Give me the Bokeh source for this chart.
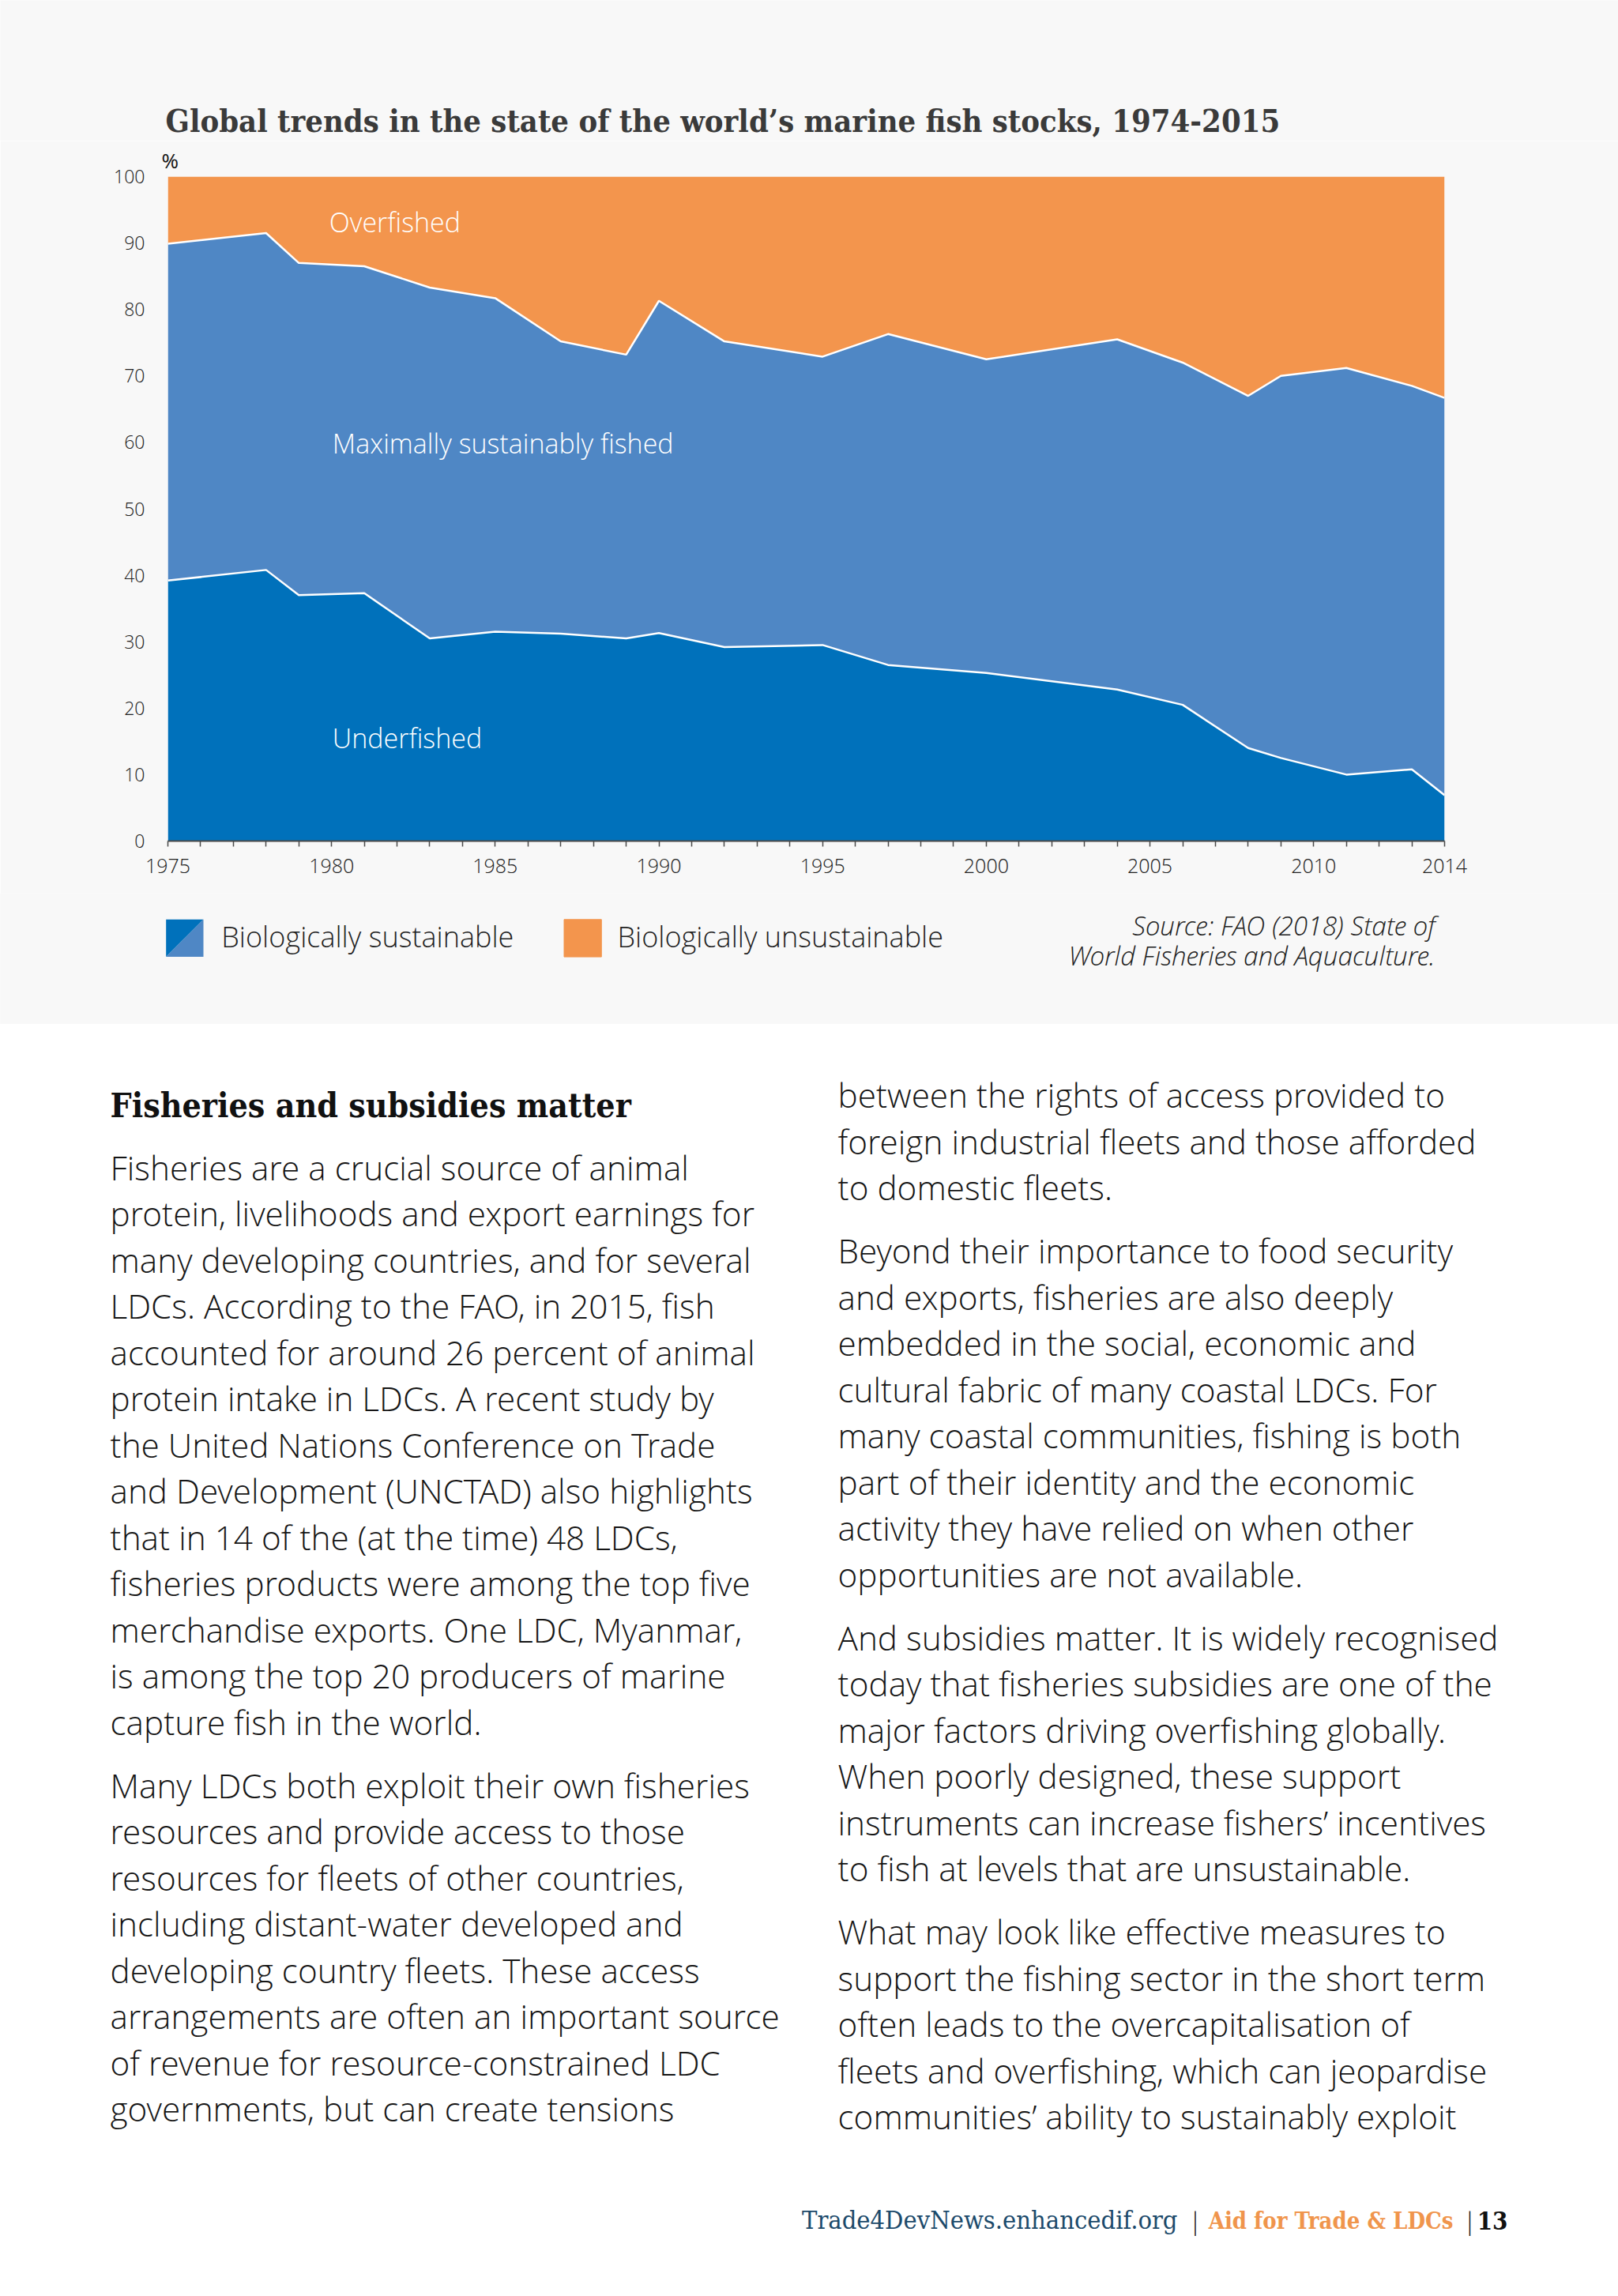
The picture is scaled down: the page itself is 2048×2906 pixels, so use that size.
import numpy as np
from bokeh.plotting import figure
from bokeh.models import Range1d, FixedTicker, Label, ColumnDataSource
from bokeh.layouts import column
from bokeh.embed import file_html
from bokeh.resources import INLINE
from bokeh.core.properties import value

# ---------------- data ----------------
years = [1975, 1978, 1979, 1981, 1983, 1985, 1987, 1989, 1990, 1992,
         1995, 1997, 2000, 2004, 2006, 2008, 2009, 2011, 2013, 2014]
underfished = [39.2, 40.8, 37.0, 37.3, 30.5, 31.5, 31.2, 30.5, 31.3, 29.2,
               29.5, 26.5, 25.3, 22.8, 20.5, 14.0, 12.5, 10.0, 10.8, 6.9]
max_sustainable = [50.7, 50.7, 50.0, 49.2, 52.8, 50.2, 44.0, 42.7, 50.0, 46.0,
                   43.4, 49.8, 47.2, 52.7, 51.5, 53.0, 57.5, 61.2, 57.7, 59.8]
overfished = [10.1, 8.5, 13.0, 13.5, 16.7, 18.3, 24.8, 26.8, 18.7, 24.8,
              27.1, 23.7, 27.5, 24.5, 28.0, 33.0, 30.0, 28.8, 31.5, 33.3]

tick_years = list(range(1975, 2015))
labelled_years = [1975, 1980, 1985, 1990, 1995, 2000, 2005, 2010, 2014]
y_ticks = list(range(0, 101, 10))

title_text = "Global trends in the state of the world\u2019s marine fish stocks, 1974-2015"
unit_text = "%"
band_labels = ["Overfished", "Maximally sustainably fished", "Underfished"]
legend_labels = ["Biologically sustainable", "Biologically unsustainable"]
source_lines = ["Source: FAO (2018) State of", "World Fisheries and Aquaculture."]

heading_text = "Fisheries and subsidies matter"
left_paragraphs = [
    ["Fisheries are a crucial source of animal",
     "protein, livelihoods and export earnings for",
     "many developing countries, and for several",
     "LDCs. According to the FAO, in 2015, fish",
     "accounted for around 26 percent of animal",
     "protein intake in LDCs. A recent study by",
     "the United Nations Conference on Trade",
     "and Development (UNCTAD) also highlights",
     "that in 14 of the (at the time) 48 LDCs,",
     "fisheries products were among the top five",
     "merchandise exports. One LDC, Myanmar,",
     "is among the top 20 producers of marine",
     "capture fish in the world."],
    ["Many LDCs both exploit their own fisheries",
     "resources and provide access to those",
     "resources for fleets of other countries,",
     "including distant-water developed and",
     "developing country fleets. These access",
     "arrangements are often an important source",
     "of revenue for resource-constrained LDC",
     "governments, but can create tensions"],
]
right_paragraphs = [
    ["between the rights of access provided to",
     "foreign industrial fleets and those afforded",
     "to domestic fleets."],
    ["Beyond their importance to food security",
     "and exports, fisheries are also deeply",
     "embedded in the social, economic and",
     "cultural fabric of many coastal LDCs. For",
     "many coastal communities, fishing is both",
     "part of their identity and the economic",
     "activity they have relied on when other",
     "opportunities are not available."],
    ["And subsidies matter. It is widely recognised",
     "today that fisheries subsidies are one of the",
     "major factors driving overfishing globally.",
     "When poorly designed, these support",
     "instruments can increase fishers\u2019 incentives",
     "to fish at levels that are unsustainable."],
    ["What may look like effective measures to",
     "support the fishing sector in the short term",
     "often leads to the overcapitalisation of",
     "fleets and overfishing, which can jeopardise",
     "communities\u2019 ability to sustainably exploit"],
]
footer_parts = ["Trade4DevNews.enhancedif.org", "|", "Aid for Trade & LDCs", "|", "13"]

# ---------------- styles ----------------
DARK_BLUE = "#0071BB"
MID_BLUE = "#4F87C5"
ORANGE = "#F3954D"
PAGE_GRAY = "#F8F8F8"
TEXT = "#151515"
SLAB = "DejaVu Serif Condensed"
SANS = "Open Sans Light"

W = 2048
HT = 178            # page 0..178
HA = 1130 - HT      # page 178..1130
HB = 2906 - 1130    # page 1130..2906
BL = 0.39           # empirical baseline correction (fraction of font size)


def bl(y, size):
    return y - BL * size


def no_frame_align(p):
    try:
        p.frame_align = False
    except Exception:
        pass


def page_figure(height, y_top):
    p = figure(width=W, height=height, x_range=Range1d(0, W),
               y_range=Range1d(y_top + height, y_top),
               output_backend="svg", toolbar_location=None,
               x_axis_type=None, y_axis_type=None, min_border=0)
    p.outline_line_color = None
    p.grid.visible = False
    no_frame_align(p)
    return p


# ---------------- title strip ----------------
pT = page_figure(HT, 0)
pT.background_fill_color = PAGE_GRAY
pT.border_fill_color = PAGE_GRAY
pT.text(x=[209], y=[bl(168, 39.6)], text=[title_text], text_font=value(SLAB), text_font_style="bold",
        text_font_size="39.6px", text_color="#3A3A3A", text_baseline="alphabetic")

# ---------------- chart figure ----------------
# frame: page x 211.6..1828, page y 223..1064
pA = figure(width=W, height=HA, x_range=Range1d(1975, 2014), y_range=Range1d(0, 100),
            output_backend="svg", toolbar_location=None,
            min_border_left=212, min_border_right=W - 1828,
            min_border_top=223 - HT, min_border_bottom=1130 - 1064)
pA.background_fill_color = PAGE_GRAY
pA.border_fill_color = PAGE_GRAY
pA.outline_line_color = None
pA.grid.visible = False
no_frame_align(pA)
pA.title.text = unit_text
pA.title.align = "left"
pA.title.offset = -8
pA.title.standoff = 5
pA.title.text_font = "Open Sans"
pA.title.text_font_style = "normal"
pA.title.text_font_size = "26px"
pA.title.text_color = "#111111"

src = ColumnDataSource(dict(year=years, under=underfished, maxs=max_sustainable, over=overfished))
pA.varea_stack(["under", "maxs", "over"], x="year", color=[DARK_BLUE, MID_BLUE, ORANGE], source=src)
cum1 = np.array(underfished)
cum2 = cum1 + np.array(max_sustainable)
pA.line(years, cum1, line_color="white", line_width=2.5)
pA.line(years, cum2, line_color="white", line_width=2.5)

xa = pA.xaxis[0]
xa.ticker = FixedTicker(ticks=tick_years)
xa.major_label_overrides = {y: (str(y) if y in labelled_years else "") for y in tick_years}
xa.axis_line_color = "#4A4A4A"
xa.axis_line_width = 2
xa.major_tick_line_color = "#4A4A4A"
xa.major_tick_line_width = 1.5
xa.major_tick_out = 7
xa.major_tick_in = 0
xa.minor_tick_line_color = None
xa.major_label_standoff = 15
xa.major_label_text_font = SANS
xa.major_label_text_font_size = "25px"
xa.major_label_text_color = "#222222"

ya = pA.yaxis[0]
ya.ticker = FixedTicker(ticks=y_ticks)
ya.axis_line_color = None
ya.major_tick_line_color = None
ya.minor_tick_line_color = None
ya.major_tick_out = 0
ya.major_tick_in = 0
ya.major_label_standoff = 29
ya.major_label_text_font = SANS
ya.major_label_text_font_size = "23px"
ya.major_label_text_color = "#222222"

FX0, FX1, FY0, FY1 = 211.6, 1828.0, 1064.0, 223.0
def fx(px):
    return 1975 + (px - FX0) * 39.0 / (FX1 - FX0)
def fy(py):
    return (FY0 - py) * 100.0 / (FY0 - FY1)

band_pos = [(416, 280), (420, 560), (420, 933)]
for t, (bx, by) in zip(band_labels, band_pos):
    pA.add_layout(Label(x=fx(bx), y=fy(by), text=t, text_font=SANS, text_font_size="34px",
                        text_color="white", text_baseline="middle", text_align="left"))

# ---------------- text/page figure ----------------
pB = page_figure(HB, 1130)
pB.background_fill_color = "white"
pB.border_fill_color = "white"

pB.quad(left=[0], right=[W], top=[1130], bottom=[1295], color=PAGE_GRAY)

# legend swatches
sw_x, sw_y, sw = 209.7, 1163.3, 47.3
pB.patches(xs=[[sw_x, sw_x + sw, sw_x], [sw_x + sw, sw_x + sw, sw_x]],
           ys=[[sw_y, sw_y, sw_y + sw], [sw_y, sw_y + sw, sw_y + sw]],
           color=[DARK_BLUE, MID_BLUE], line_width=0)
pB.quad(left=[713.5], right=[713.5 + sw], top=[sw_y], bottom=[sw_y + sw], color=ORANGE)
pB.text(x=[279.8, 781], y=[bl(1199, 36)] * 2, text=legend_labels, text_font=value(SANS),
        text_font_size="36px", text_color="#222222", text_baseline="alphabetic")
pB.text(x=[1816, 1816], y=[bl(1183.3, 33.5), bl(1221.7, 33.5)], text=source_lines,
        text_font=value(SANS), text_font_style="italic", text_font_size="33.5px",
        text_color="#222222", text_baseline="alphabetic", text_align="right")

# heading
pB.text(x=[139], y=[bl(1415, 42.5)], text=[heading_text], text_font=value(SLAB),
        text_font_style="bold", text_font_size="42.5px", text_color="#111111",
        text_baseline="alphabetic")

# body text
BODY = 42.3
LINE, PARA = 58.5, 80.0
def layout_lines(paragraphs, x0, y0):
    xs, ys, ts = [], [], []
    y = y0
    for pi, para in enumerate(paragraphs):
        if pi > 0:
            y += PARA - LINE
        for line in para:
            xs.append(x0); ys.append(bl(y, BODY)); ts.append(line)
            y += LINE
    return xs, ys, ts

lx, ly, lt = layout_lines(left_paragraphs, 139, 1493.3)
rx, ry, rt = layout_lines(right_paragraphs, 1060, 1401.7)
pB.text(x=lx + rx, y=ly + ry, text=lt + rt, text_font=value(SANS), text_font_size=f"{BODY}px",
        text_color=TEXT, text_baseline="alphabetic")

# footer
FY = 2821.7
pB.text(x=[1490], y=[bl(FY, 32.4)], text=[footer_parts[0]], text_font=value(SLAB),
        text_font_size="32.4px", text_color="#1C4A6B", text_baseline="alphabetic", text_align="right")
pB.text(x=[1512.5, 1860], y=[bl(FY, 32)] * 2, text=[footer_parts[1], footer_parts[3]],
        text_font=value(SANS), text_font_size="32px", text_color="#111111",
        text_baseline="alphabetic", text_align="center")
pB.text(x=[1839], y=[bl(FY, 29)], text=[footer_parts[2]], text_font=value(SLAB),
        text_font_style="bold", text_font_size="29px", text_color="#F0954C",
        text_baseline="alphabetic", text_align="right")
pB.text(x=[1908], y=[bl(FY, 31)], text=[footer_parts[4]], text_font=value(SLAB),
        text_font_style="bold", text_font_size="31px", text_color="#111111",
        text_baseline="alphabetic", text_align="right")

layout = column(pT, pA, pB)
open("out.html", "w").write(file_html(layout, INLINE))
